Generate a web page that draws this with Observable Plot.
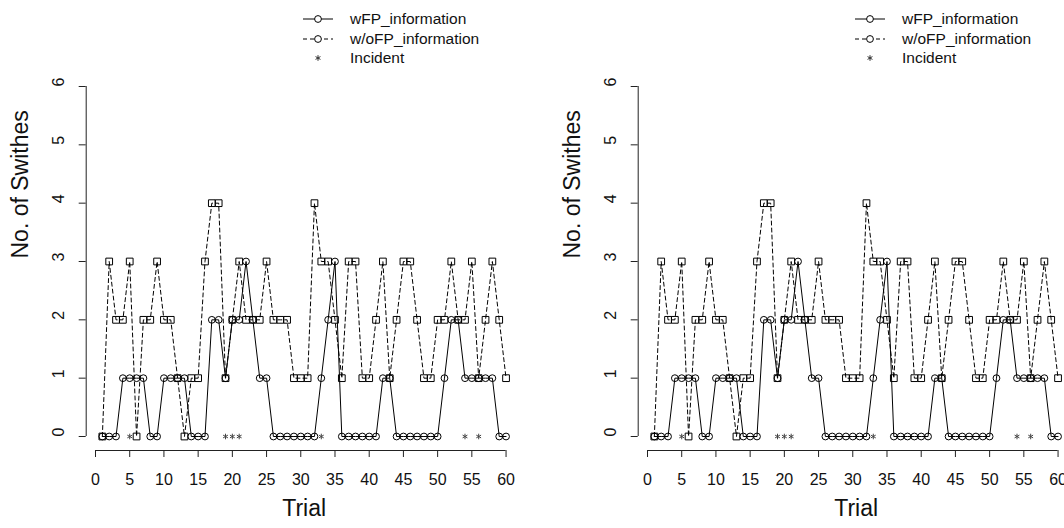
<!DOCTYPE html>
<html>
<head>
<meta charset="utf-8">
<script src="https://cdn.jsdelivr.net/npm/d3@7"></script>
<script src="https://cdn.jsdelivr.net/npm/@observablehq/plot@0.6"></script>
<style>
  html, body { margin: 0; padding: 0; background: #fff; }
  body { width: 1064px; height: 528px; overflow: hidden; position: relative; font-family: "Liberation Sans", Arial, sans-serif; }
  .panel { position: absolute; top: 0; width: 552px; height: 528px; }
  .panel svg { display: block; }
</style>
</head>
<body>
<script>
// ---- data ----
const trials = d3.range(1, 61);
const wFP = [0,0,0,1,1,1,1,0,0,1, 1,1,1,0,0,0,2,2,1,2, 2,3,2,1,1,0,0,0,0,0,
             0,0,1,2,3,0,0,0,0,0, 0,1,1,0,0,0,0,0,0,0, 1,2,2,1,1,1,1,1,0,0];
const woFP = [0,3,2,2,3,0,2,2,3,2, 2,1,0,1,1,3,4,4,1,2, 3,2,2,2,3,2,2,2,1,1,
              1,4,3,3,2,1,3,3,1,1, 2,3,1,2,3,3,2,1,1,2, 2,3,2,2,3,1,2,3,2,1];
const incidents = [5, 19, 20, 21, 33, 54, 56];
const xTicks = [0, 5, 10, 15, 20, 25, 30, 35, 40, 45, 50, 55, 60];
const yTicks = [0, 1, 2, 3, 4, 5, 6];
const legendLabels = ["wFP_information", "w/oFP_information", "Incident"];
const xLabel = "Trial";
const yLabel = "No. of Swithes";

const rows = trials.map((t, i) => ({trial: t, wfp: wFP[i], wofp: woFP[i]}));

// R-style 4% axis padding
const xPad = 0.04 * (d3.max(trials) - d3.min(trials));
const xDomain = [d3.min(trials) - xPad, d3.max(trials) + xPad];
const yPad = 0.04 * (d3.max(yTicks) - d3.min(yTicks));
const yDomain = [d3.min(yTicks) - yPad, d3.max(yTicks) + yPad];

const FONT = "Liberation Sans, Arial, sans-serif";

function makeLegend() {
  const svg = d3.create("svg").attr("width", 552).attr("height", 72)
    .style("font-family", FONT);
  const rowsY = [19, 39, 58];
  const x0 = 303, x1 = 333, xm = 318, xt = 350;
  // wFP
  svg.append("line").attr("x1", x0).attr("x2", x1).attr("y1", rowsY[0]).attr("y2", rowsY[0])
    .attr("stroke", "#000").attr("stroke-width", 1);
  svg.append("circle").attr("cx", xm).attr("cy", rowsY[0]).attr("r", 3.4)
    .attr("fill", "#fff").attr("stroke", "#000");
  // w/oFP
  svg.append("line").attr("x1", x0).attr("x2", x1).attr("y1", rowsY[1]).attr("y2", rowsY[1])
    .attr("stroke", "#000").attr("stroke-width", 1).attr("stroke-dasharray", "4,3");
  svg.append("circle").attr("cx", xm).attr("cy", rowsY[1]).attr("r", 3.4)
    .attr("fill", "#fff").attr("stroke", "#000");
  // Incident
  svg.append("path").attr("d", d3.symbol(d3.symbolAsterisk, 22)())
    .attr("transform", `translate(${xm},${rowsY[2]})`)
    .attr("stroke", "#333").attr("fill", "none");
  legendLabels.forEach((lab, i) => {
    svg.append("text").attr("x", xt).attr("y", rowsY[i]).attr("dy", "0.35em")
      .attr("font-size", 15.5).attr("fill", "#111").text(lab);
  });
  return svg.node();
}

function makePlot() {
  return Plot.plot({
    width: 552,
    height: 456,
    marginLeft: 85.7,
    marginRight: 30.3,
    marginTop: 0,
    marginBottom: 78,
    style: {fontFamily: FONT, fontSize: "16px", background: "transparent", color: "#111", overflow: "visible"},
    x: {domain: xDomain, axis: null},
    y: {domain: yDomain, axis: null},
    marks: [
      // axes (R style, detached)
      Plot.ruleX([xDomain[0]], {y1: d3.min(yTicks), y2: d3.max(yTicks), stroke: "#222"}),
      Plot.ruleY([yDomain[0]], {x1: d3.min(xTicks), x2: d3.max(xTicks), stroke: "#222"}),
      Plot.axisY({ticks: yTicks, tickSize: 7, tickFormat: () => "", label: null, stroke: "#222"}),
      Plot.axisX({ticks: xTicks, tickSize: 7, tickPadding: 16, fontSize: 16, label: null, stroke: "#222", anchor: "bottom"}),
      Plot.text(yTicks, {y: d => d, text: d => String(d), frameAnchor: "left", dx: -27, rotate: -90, fontSize: 16, fill: "#111"}),
      Plot.text([yLabel], {frameAnchor: "left", dx: -66, dy: -3, rotate: -90, fontSize: 23, fill: "#111", text: d => d}),
      Plot.text([xLabel], {frameAnchor: "bottom", dy: 65, fontSize: 23, fill: "#111", text: d => d}),
      // data
      Plot.line(rows, {x: "trial", y: "wofp", stroke: "#000", strokeWidth: 1, strokeDasharray: "4,3"}),
      Plot.line(rows, {x: "trial", y: "wfp", stroke: "#000", strokeWidth: 1}),
      Plot.dot(rows, {x: "trial", y: "wofp", symbol: "square", r: 3.8, stroke: "#000", fill: "none", strokeWidth: 1}),
      Plot.dot(rows, {x: "trial", y: "wfp", symbol: "circle", r: 3.4, stroke: "#000", fill: "none", strokeWidth: 1}),
      Plot.dot(incidents, {x: d => d, y: () => 0, symbol: "asterisk", r: 2.6, stroke: "#444", strokeWidth: 1})
    ]
  });
}

[0, 552].forEach(left => {
  const panel = document.createElement("div");
  panel.className = "panel";
  panel.style.left = left + "px";
  panel.appendChild(makeLegend());
  panel.appendChild(makePlot());
  document.body.appendChild(panel);
});
</script>
</body>
</html>
